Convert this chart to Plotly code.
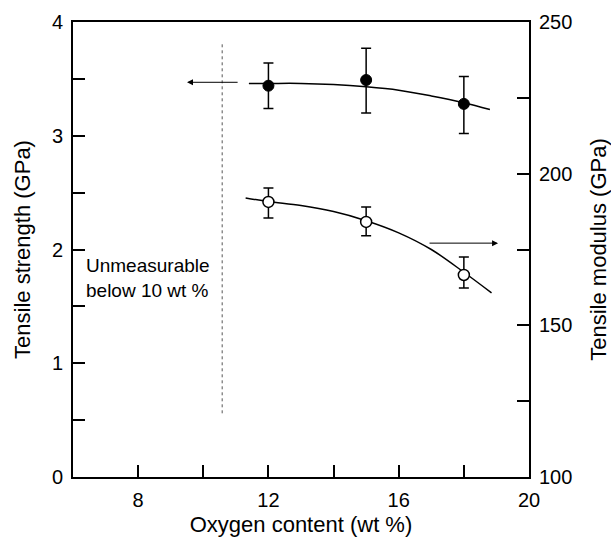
import plotly.graph_objects as go

# Data
oxygen = [12, 15, 18]
strength = [3.44, 3.49, 3.28]
strength_err_plus = [0.20, 0.28, 0.24]
strength_err_minus = [0.20, 0.29, 0.26]
modulus = [190.7, 184.1, 166.6]
modulus_err_plus = [4.6, 4.9, 5.9]
modulus_err_minus = [5.3, 4.6, 4.3]

strength_fit_x = [11.4, 12, 13, 14, 15, 16, 17, 18, 18.8]
strength_fit_y = [3.46, 3.46, 3.46, 3.45, 3.43, 3.40, 3.35, 3.29, 3.23]
modulus_fit_x = [11.3, 12, 13, 14, 15, 16, 17, 18, 18.85]
modulus_fit_y = [192.0, 190.8, 189.5, 187.5, 184.5, 180.5, 175.0, 167.5, 160.7]

limit_x = [10.58, 10.58]
limit_y = [0.56, 3.83]

x_tickvals = [8, 10, 12, 14, 16, 18, 20]
x_ticktext = ["8", "", "12", "", "16", "", "20"]
y1_tickvals = [0, 0.5, 1, 1.5, 2, 2.5, 3, 3.5, 4]
y1_ticktext = ["0", "", "1", "", "2", "", "3", "", "4"]
y2_tickvals = [100, 125, 150, 175, 200, 225, 250]
y2_ticktext = ["100", "", "150", "", "200", "", "250"]

FONT = "Liberation Sans, Arial, sans-serif"
FS_TICK = 20
FS_TITLE = 22
FS_TEXT = 19

fig = go.Figure()

fig.add_trace(go.Scatter(x=limit_x, y=limit_y, mode="lines",
                         line=dict(color="#555555", width=1, dash="dot"),
                         showlegend=False, hoverinfo="skip"))

fig.add_trace(go.Scatter(x=strength_fit_x, y=strength_fit_y, mode="lines",
                         line=dict(color="black", width=1.5, shape="spline"),
                         showlegend=False))
fig.add_trace(go.Scatter(x=modulus_fit_x, y=modulus_fit_y, mode="lines", yaxis="y2",
                         line=dict(color="black", width=1.5, shape="spline"),
                         showlegend=False))

fig.add_trace(go.Scatter(
    x=oxygen, y=strength, mode="markers",
    marker=dict(symbol="circle", size=11, color="black", line=dict(color="black", width=1)),
    error_y=dict(type="data", symmetric=False, array=strength_err_plus,
                 arrayminus=strength_err_minus, color="black", thickness=1.5, width=5),
    showlegend=False))

fig.add_trace(go.Scatter(
    x=oxygen, y=modulus, mode="markers", yaxis="y2",
    marker=dict(symbol="circle", size=11, color="white", line=dict(color="black", width=1.5)),
    error_y=dict(type="data", symmetric=False, array=modulus_err_plus,
                 arrayminus=modulus_err_minus, color="black", thickness=1.5, width=5),
    showlegend=False))

fig.add_annotation(x=9.5, y=3.47, ax=11.1, ay=3.47, xref="x", yref="y",
                   axref="x", ayref="y", text="", showarrow=True,
                   arrowhead=2, arrowsize=1.2, arrowwidth=1, arrowcolor="black")
fig.add_annotation(x=19.05, y=177.1, ax=16.9, ay=177.1, xref="x", yref="y2",
                   axref="x", ayref="y2", text="", showarrow=True,
                   arrowhead=2, arrowsize=1.2, arrowwidth=1, arrowcolor="black")

fig.add_annotation(x=6.35, y=1.75, xref="x", yref="y", text="Unmeasurable<br>below 10 wt %",
                   showarrow=False, xanchor="left", yanchor="middle", align="left",
                   font=dict(family=FONT, size=FS_TEXT, color="black"))

axis_common = dict(showgrid=False, zeroline=False, showline=True, linecolor="black",
                   linewidth=2, ticks="inside", ticklen=12, tickwidth=1.5, tickcolor="black",
                   automargin=False,
                   tickfont=dict(family=FONT, size=FS_TICK, color="black"))

fig.update_layout(
    width=611, height=540,
    margin=dict(l=73, r=82, t=22, b=63, autoexpand=False),
    paper_bgcolor="white", plot_bgcolor="white",
    font=dict(family=FONT, size=FS_TICK, color="black"),
    xaxis=dict(range=[6, 20], tickmode="array", tickvals=x_tickvals, ticktext=x_ticktext,
               mirror=True, ticklabelstandoff=4,
               title=dict(text="Oxygen content (wt %)", font=dict(family=FONT, size=FS_TITLE), standoff=7),
               **axis_common),
    yaxis=dict(range=[0, 4], tickmode="array", tickvals=y1_tickvals, ticktext=y1_ticktext,
               ticklabelstandoff=4,
               title=dict(text="Tensile strength (GPa)", font=dict(family=FONT, size=FS_TITLE), standoff=15),
               **axis_common),
    yaxis2=dict(range=[100, 250], overlaying="y", side="right", tickmode="array",
                tickvals=y2_tickvals, ticktext=y2_ticktext, ticklabelstandoff=4,
                title=dict(text="Tensile modulus (GPa)", font=dict(family=FONT, size=FS_TITLE), standoff=21),
                **axis_common),
)

fig.write_html("out.html")
